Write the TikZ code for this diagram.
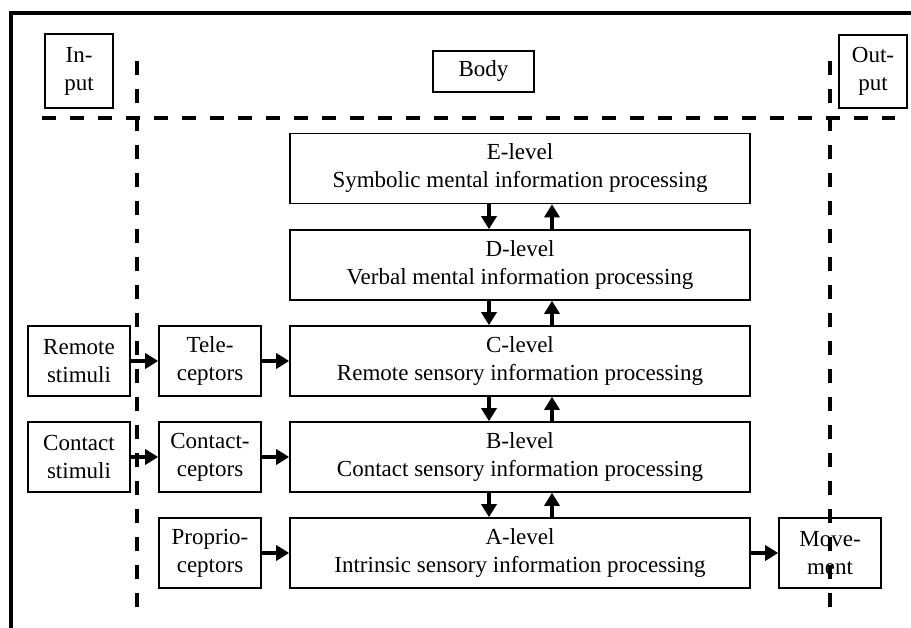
\documentclass[tikz,border=0pt]{standalone}
\usepackage{fontspec}
\setmainfont{Liberation Serif}
\usetikzlibrary{arrows.meta,positioning}
\tikzset{
  lvl/.style={draw, line width=1.6pt, minimum width=460pt, minimum height=70pt,
              align=center, inner sep=0pt},
  sbox/.style={draw, line width=1.6pt, minimum width=#1, minimum height=70pt,
               align=center, inner sep=0pt},
  zone/.style={draw, line width=1.6pt, align=center, inner sep=0pt},
  flow/.style={line width=4pt, -{Triangle[length=13pt, width=15pt]}},
  border/.style={line width=4pt},
  sep/.style={line width=4pt, dash pattern=on 14pt off 14pt},
}

\begin{document}
\begin{tikzpicture}[x=1pt, y=-1pt, font=\fontsize{23}{28}\selectfont]
\useasboundingbox (0,0) rectangle (911,628);

% frame (top and left edge)
\draw[border] (911,13) -- (11,13) -- (11,628);

% zone labels
\node[zone, minimum width=68pt, minimum height=74pt] (input) at (79,71) {In-\\put};
\node[zone, minimum width=101pt, minimum height=41pt] (body) at (483.5,71.5) {Body};
\node[zone, minimum width=68pt, minimum height=73pt] (output) at (873,71.5) {Out-\\put};

% zone borders
\draw[sep] (42,118) -- (895,118);
\draw[sep] (137,61) -- (137,608);
\draw[sep] (830,61) -- (830,608);

% levels
\node[lvl] (e) at (520,168.5) {E-level\\Symbolic mental information processing};
\node[lvl] (d) at (520,265) {D-level\\Verbal mental information processing};
\node[lvl] (c) at (520,361) {C-level\\Remote sensory information processing};
\node[lvl] (b) at (520,457) {B-level\\Contact sensory information processing};
\node[lvl] (a) at (520,553) {A-level\\Intrinsic sensory information processing};

% stimuli and receptors
\node[sbox=102pt] (remote) at (79,361) {Remote\\stimuli};
\node[sbox=102pt] (contact) at (79,457) {Contact\\stimuli};
\node[sbox=102pt] (tele) at (210,361) {Tele-\\ceptors};
\node[sbox=102pt] (cceptors) at (210,457) {Contact-\\ceptors};
\node[sbox=102pt] (proprio) at (210,553) {Proprio-\\ceptors};
\node[sbox=102pt] (move) at (830,553) {Move-\\ment};

% inputs
\draw[flow] (remote) -- (tele);
\draw[flow] (contact) -- (cceptors);
\draw[flow] (tele) -- (c);
\draw[flow] (cceptors) -- (b);
\draw[flow] (proprio) -- (a);
\draw[flow] (a) -- (move);

% between levels: down on the left, up on the right
\draw[flow] ([xshift=-31pt]e.south) -- ([xshift=-31pt]d.north);
\draw[flow] ([xshift=32pt]d.north) -- ([xshift=32pt]e.south);
\draw[flow] ([xshift=-31pt]d.south) -- ([xshift=-31pt]c.north);
\draw[flow] ([xshift=32pt]c.north) -- ([xshift=32pt]d.south);
\draw[flow] ([xshift=-31pt]c.south) -- ([xshift=-31pt]b.north);
\draw[flow] ([xshift=32pt]b.north) -- ([xshift=32pt]c.south);
\draw[flow] ([xshift=-31pt]b.south) -- ([xshift=-31pt]a.north);
\draw[flow] ([xshift=32pt]a.north) -- ([xshift=32pt]b.south);

\end{tikzpicture}
\end{document}
